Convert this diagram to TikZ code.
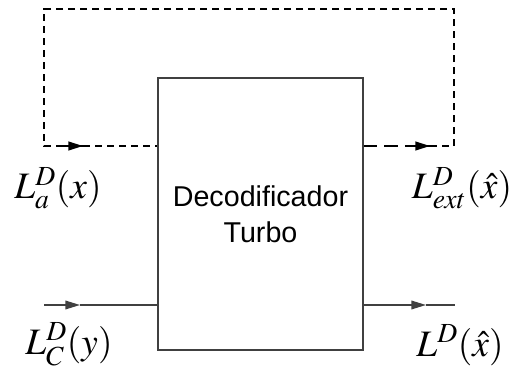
\documentclass[tikz,border=0pt]{standalone}
\usepackage{mathptmx}
\usepackage{fontspec}
\newfontfamily\boxfont{Liberation Sans}
\usepackage{tikz}
\usetikzlibrary{arrows.meta,positioning,calc}
\tikzset{tip/.style={-{Triangle[length=11pt,width=6.5pt]}}}

\begin{document}
\begin{tikzpicture}[x=0.75pt, y=-0.75pt,
    every node/.style={font=\fontsize{28}{32}\selectfont, inner sep=0pt},
    blk/.style={draw=black!75, line width=0.9pt, minimum width=153.75pt, minimum height=204pt,
      align=center, font=\boxfont\fontsize{21.5}{27}\selectfont},
    fb/.style={line width=1.6pt, dash pattern=on 5.5pt off 3.5pt},
    fblong/.style={line width=1.6pt, dash pattern=on 10pt off 5.5pt},
    sig/.style={draw=black!75, line width=1.1pt}]
			\useasboundingbox (0,0) rectangle (511,371);
			\node[blk] (dec) at (260.5,214) {Decodificador\\Turbo};
			\coordinate (tl) at (44,9);
			\coordinate (tr) at (454,9);
			\coordinate (bl) at (44,146);
			\coordinate (br) at (454,146);
			\coordinate (atip) at (83,146);
			\coordinate (etip) at (430,146);
			\coordinate (yin) at (44,305);
			\coordinate (ytip) at (80,305);
			\coordinate (xout) at (455,305);
			\coordinate (xtip) at (426,305);
			\draw[fblong] (dec.east |- br) -- (etip);
			\draw[line width=1.6pt, tip] ($(etip)+(-20,0)$) -- (etip);
			\draw[fb] (etip) -- (br) -- (tr) -- (tl) -- (bl) -- (atip);
			\draw[line width=1.6pt, tip] ($(atip)+(-20,0)$) -- (atip);
			\draw[fb] (atip) -- (dec.west |- bl);
			\draw[sig, tip] (yin) -- (ytip);
			\draw[sig] (ytip) -- (dec.west |- yin);
			\draw[sig, tip] (dec.east |- xout) -- (xtip);
			\draw[sig] (xtip) -- (xout);
			\node (la) at (58,188) {$L_a^D(x)$};
			\node (lext) at (462,188) {$L_{ext}^D(\hat{x})$};
			\node (lc) at (69,344) {$L_C^D(y)$};
			\node (lx) at (460,345) {$L^D(\hat{x})$};
		\end{tikzpicture}
\end{document}
